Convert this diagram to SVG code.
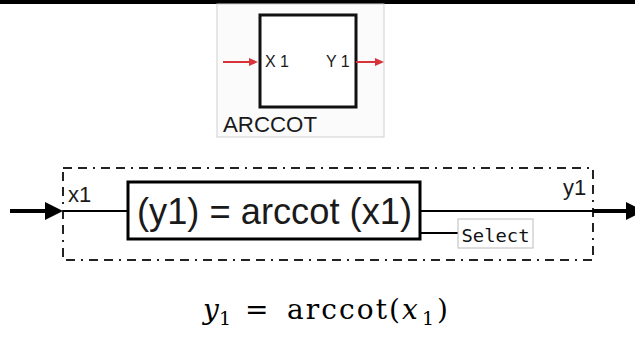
<svg xmlns="http://www.w3.org/2000/svg" width="635" height="337" viewBox="0 0 635 337">
<defs>
<style>
.sans{font-family:"Liberation Sans",Arial,sans-serif;fill:#1a1a1a}
.serif{font-family:"DejaVu Serif","Liberation Serif",serif;fill:#000}
.red{stroke:#d8333a;stroke-width:2;fill:none}
.redhead{fill:#d8333a}
.frame{fill:none;stroke:#222;stroke-width:2;stroke-dasharray:9 6 9 6 2 6}
</style>
</defs>
<rect x="0" y="0" width="635" height="337" fill="#fff"/>
<rect x="0" y="0" width="635" height="4" fill="#000"/>
<g id="arccot-block">
<rect x="217" y="4" width="167" height="133" fill="#fbfbfb" stroke="#cfcfcf" stroke-width="1"/>
<rect x="260" y="15" width="96" height="92" fill="#fff" stroke="#111" stroke-width="3"/>
<line class="red" x1="223" y1="62" x2="250" y2="62"/>
<polygon class="redhead" points="249,58 258,62 249,66"/>
<line class="red" x1="356" y1="62" x2="376" y2="62"/>
<polygon class="redhead" points="375,58 384,62 375,66"/>
<text class="sans" x="265" y="67" font-size="16">X 1</text>
<text class="sans" x="326" y="67" font-size="16">Y 1</text>
<text class="sans" x="223" y="132" font-size="22" fill="#333" textLength="94" lengthAdjust="spacingAndGlyphs">ARCCOT</text>
</g>
<g id="subsystem-frame">
<rect class="frame" x="63" y="168" width="530" height="92"/>
</g>
<g id="connectors">
<line x1="10" y1="211" x2="50" y2="211" stroke="#000" stroke-width="4"/>
<polygon points="45,202 63,211 45,220" fill="#000"/>
<line x1="63" y1="211" x2="128" y2="211" stroke="#000" stroke-width="2"/>
<line x1="420" y1="211" x2="593" y2="211" stroke="#000" stroke-width="2"/>
<line x1="593" y1="211" x2="630" y2="211" stroke="#000" stroke-width="4"/>
<polygon points="626,202 644,211 626,220" fill="#000"/>
<line x1="420" y1="233" x2="458" y2="233" stroke="#000" stroke-width="2"/>
</g>
<g id="arccot-function">
<rect x="128" y="182" width="292" height="57" fill="#fff" stroke="#000" stroke-width="3"/>
<text class="sans" x="137" y="224" font-size="36" textLength="275" lengthAdjust="spacingAndGlyphs">(y1) = arccot (x1)</text>
</g>
<g id="select">
<rect x="458" y="219" width="75" height="29" fill="#fff" stroke="#bbb" stroke-width="1"/>
<text x="495.5" y="242" font-family="'DejaVu Sans Mono','Liberation Mono',monospace" font-size="18" text-anchor="middle" fill="#111" textLength="68" lengthAdjust="spacingAndGlyphs">Select</text>
</g>
<g id="labels">
<text class="sans" x="68" y="202" font-size="22">x1</text>
<text class="sans" x="563" y="195" font-size="22">y1</text>
</g>
<g id="formula" class="serif">
<text x="203" y="319" font-size="28" font-style="italic">y</text>
<text x="219" y="325" font-size="19">1</text>
<text x="245" y="319" font-size="28">=</text>
<text x="287" y="319" font-size="28" textLength="113" lengthAdjust="spacing">arccot(</text>
<text x="402" y="319" font-size="28" font-style="italic">x</text>
<text x="422" y="325" font-size="19">1</text>
<text x="437" y="319" font-size="28">)</text>
</g>
</svg>
